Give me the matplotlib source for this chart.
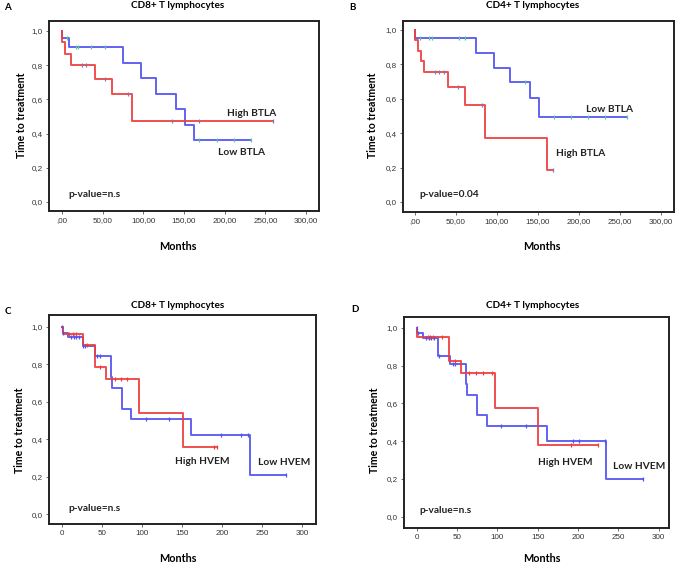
import numpy as np
import matplotlib.pyplot as plt
from matplotlib.ticker import FixedLocator

# -------------------------
# Data (step times / survival levels / censor times)
# -------------------------
# A: CD8+ BTLA
a_low_t = [0, 0, 8, 75, 97, 115, 140, 151, 162]
a_low_s = [1.0, 0.96, 0.905, 0.815, 0.725, 0.634, 0.543, 0.452, 0.362]
a_low_end = 232
a_low_cens = [6, 17, 20, 36, 53, 169, 190, 211, 232]
a_high_t = [0, 0, 4, 11, 41, 61, 86]
a_high_s = [1.0, 0.934, 0.867, 0.80, 0.721, 0.632, 0.472]
a_high_end = 260
a_high_cens = [24, 29, 53, 81, 135, 168, 260]

# B: CD4+ BTLA
b_low_t = [0, 0, 75, 97, 116, 140, 151]
b_low_s = [1.0, 0.955, 0.868, 0.78, 0.696, 0.603, 0.496]
b_low_end = 259
b_low_cens = [6, 17, 21, 54, 61, 134, 170, 190, 211, 232, 259]
b_high_t = [0, 0, 4, 7.5, 11, 41, 61, 86, 161]
b_high_s = [1.0, 0.94, 0.88, 0.82, 0.757, 0.67, 0.562, 0.373, 0.186]
b_high_end = 168
b_high_cens = [25, 30, 36, 53, 82, 168]

# C: CD8+ HVEM
c_low_t = [0, 1, 8, 26, 41, 61, 63, 75, 86, 162, 235]
c_low_s = [1.0, 0.968, 0.944, 0.897, 0.843, 0.73, 0.675, 0.562, 0.505, 0.42, 0.21]
c_low_end = 280
c_low_cens = [0, 2, 12, 15, 18, 21, 26, 29, 44, 48, 105, 134, 199, 224, 232, 280]
c_high_t = [0, 1, 26, 41, 55, 97, 151]
c_high_s = [1.0, 0.959, 0.902, 0.783, 0.719, 0.537, 0.36]
c_high_end = 194
c_high_cens = [9, 14, 18, 31, 48, 66, 74, 81, 190, 194]

# D: CD4+ HVEM
d_low_t = [0, 1, 8, 26, 41, 61, 63, 75, 87, 161, 235]
d_low_s = [1.0, 0.974, 0.947, 0.852, 0.808, 0.70, 0.642, 0.536, 0.479, 0.40, 0.20]
d_low_end = 280
d_low_cens = [0, 2, 12, 15, 18, 21, 28, 45, 47, 105, 135, 194, 201, 233, 280]
d_high_t = [0, 1, 40, 55, 97, 151]
d_high_s = [1.0, 0.952, 0.825, 0.758, 0.573, 0.379]
d_high_end = 225
d_high_cens = [14, 17, 20, 32, 48, 65, 74, 82, 94, 191, 225]

x_ticks = [0, 50, 100, 150, 200, 250, 300]
y_ticks = [0.0, 0.2, 0.4, 0.6, 0.8, 1.0]
x_labels_comma = [",00", "50,00", "100,00", "150,00", "200,00", "250,00", "300,00"]
x_labels_int = ["0", "50", "100", "150", "200", "250", "300"]
y_labels = ["0,0", "0,2", "0,4", "0,6", "0,8", "1,0"]

BLUE = "#5252f2"
RED = "#ee3c3c"
GREEN = "#5cc98a"
MARKGRAY = "#7a7ab8"

plt.rcParams['font.family'] = ['Lato', 'DejaVu Sans']

W, H = 676, 565
fig = plt.figure(figsize=(W / 100, H / 100), dpi=100)


def px_axes(left, top, right, bottom):
    return fig.add_axes([left / W, 1 - bottom / H, (right - left) / W, (bottom - top) / H])


def km(ax, t, s, end, cens, color, mcolor):
    t = list(t)
    s = list(s)
    ax.step(t + [end], s + [s[-1]], where='post', color=color, lw=1.4, alpha=0.9, zorder=3)
    idx = np.searchsorted(t, cens, side='right') - 1
    ax.plot(cens, np.array(s)[idx], ls='none', marker='|', ms=3.5, mew=0.9,
            color=mcolor, zorder=4)


def style(ax, xlim, ylim, xlabels):
    ax.set_xlim(*xlim)
    ax.set_ylim(*ylim)
    ax.xaxis.set_major_locator(FixedLocator(x_ticks))
    ax.yaxis.set_major_locator(FixedLocator(y_ticks))
    ax.set_xticklabels(xlabels, family='Liberation Sans', fontsize=5.8, color='#333333')
    ax.set_yticklabels(y_labels, family='Liberation Sans', fontsize=5.8, color='#333333')
    ax.tick_params(length=2.5, width=0.6, color='#555555', pad=2)
    for sp in ax.spines.values():
        sp.set_linewidth(1.4)
        sp.set_color('#222222')


panels = [
    # axes box px, limits, tick labels
    dict(box=(49, 21, 319, 211), xlim=(-16, 316), ylim=(-0.053, 1.058), xl=x_labels_comma,
         curves=[(a_low_t, a_low_s, a_low_end, a_low_cens, BLUE, GREEN),
                 (a_high_t, a_high_s, a_high_end, a_high_cens, RED, MARKGRAY)],
         texts=[(203, 0.515, "High BTLA"), (192, 0.29, "Low BTLA"), (8, 0.045, "p-value=n.s")],
         title=("CD8+ T lymphocytes", 178, 5), letter=("A", 4, 8), ylab=(22, 115), xlab=(178, 246)),
    dict(box=(403, 21, 674, 212), xlim=(-14.3, 315.8), ylim=(-0.058, 1.052), xl=x_labels_comma,
         curves=[(b_low_t, b_low_s, b_low_end, b_low_cens, BLUE, GREEN),
                 (b_high_t, b_high_s, b_high_end, b_high_cens, RED, MARKGRAY)],
         texts=[(208, 0.535, "Low BTLA"), (172, 0.283, "High BTLA"), (6, 0.045, "p-value=0.04")],
         title=("CD4+ T lymphocytes", 533, 5), letter=("B", 349, 8), ylab=(373, 115), xlab=(542, 246)),
    dict(box=(49, 315, 316, 524), xlim=(-15.9, 317.5), ylim=(-0.053, 1.062), xl=x_labels_int,
         curves=[(c_low_t, c_low_s, c_low_end, c_low_cens, BLUE, BLUE),
                 (c_high_t, c_high_s, c_high_end, c_high_cens, RED, RED)],
         texts=[(141, 0.279, "High HVEM"), (245, 0.274, "Low HVEM"), (8, 0.03, "p-value=n.s")],
         title=("CD8+ T lymphocytes", 178, 305), letter=("C", 5, 311), ylab=(20, 430), xlab=(178, 559)),
    dict(box=(404, 317, 669, 528), xlim=(-15.7, 312.8), ylim=(-0.06, 1.057), xl=x_labels_int,
         curves=[(d_low_t, d_low_s, d_low_end, d_low_cens, BLUE, BLUE),
                 (d_high_t, d_high_s, d_high_end, d_high_cens, RED, RED)],
         texts=[(150, 0.288, "High HVEM"), (243, 0.265, "Low HVEM"), (3, 0.035, "p-value=n.s")],
         title=("CD4+ T lymphocytes", 533, 305), letter=("D", 351, 310), ylab=(375, 430), xlab=(542, 559)),
]

for p in panels:
    ax = px_axes(*p['box'])
    for c in p['curves']:
        km(ax, *c)
    style(ax, p['xlim'], p['ylim'], p['xl'])
    for x, y, s in p['texts']:
        ax.text(x, y, s, fontsize=7.3, fontweight='bold', color='#222222', va='center', ha='left')
    t, tx, ty = p['title']
    fig.text(tx / W, 1 - ty / H, t, fontsize=7.2, fontweight='bold', ha='center', va='center')
    l, lx, ly = p['letter']
    fig.text(lx / W, 1 - ly / H, l, fontsize=7, fontweight='bold', ha='left', va='center')
    fig.text(p['ylab'][0] / W, 1 - p['ylab'][1] / H, "Time to treatment", fontsize=7.6,
             fontweight='bold', rotation=90, ha='center', va='center')
    fig.text(p['xlab'][0] / W, 1 - p['xlab'][1] / H, "Months", fontsize=7.8,
             fontweight='bold', ha='center', va='center')

fig.savefig("out.png", dpi=100)
